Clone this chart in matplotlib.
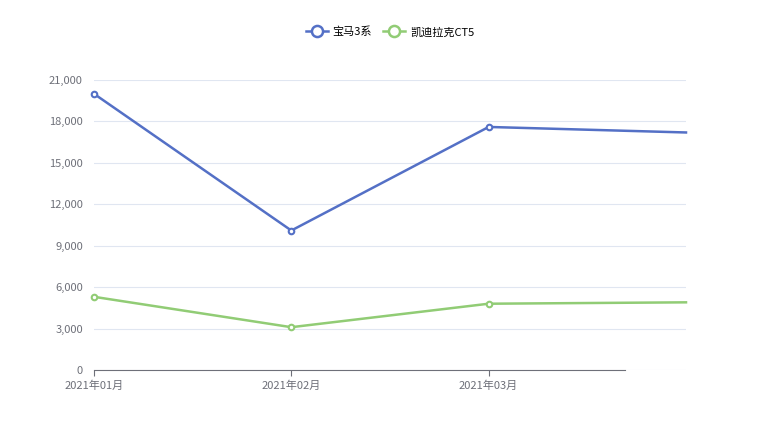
import matplotlib.pyplot as plt
from matplotlib.ticker import FuncFormatter

plt.rcParams['font.family'] = ['Noto Sans CJK SC', 'DejaVu Sans']

months = ['2021年01月', '2021年02月', '2021年03月', '2021年04月']
bmw = [20000, 10100, 17600, 17200]
cadillac = [5300, 3100, 4800, 4900]
series = [('宝马3系', bmw, '#5470c6'), ('凯迪拉克CT5', cadillac, '#91cc75')]

fig = plt.figure(figsize=(7.8, 4.4), dpi=100)
ax = fig.add_axes([94 / 780, 1 - 370 / 440, (686 - 94) / 780, (370 - 80) / 440])

x = list(range(len(months)))
for name, vals, col in series:
    ax.plot(x, vals, color=col, lw=1.8, label=name, clip_on=False)
    ax.plot(x[:3], vals[:3], 'o', ms=4, mfc='white', mec=col, mew=1.5, clip_on=False)

ax.set_xlim(0, 3)
ax.set_ylim(0, 21000)
ax.set_yticks(range(0, 21001, 3000))
ax.yaxis.set_major_formatter(FuncFormatter(lambda v, p: f'{int(v):,}'))
ax.set_xticks(x[:3])
ax.set_xticklabels(months[:3])
ax.grid(axis='y', color='#e0e6f1', lw=0.8)
ax.set_axisbelow(True)
for s in ['top', 'right', 'left']:
    ax.spines[s].set_visible(False)
ax.spines['bottom'].set_color('#6e7079')
ax.spines['bottom'].set_bounds(0, (625 - 94) / ((686 - 94) / 3))
ax.tick_params(axis='y', length=0, labelsize=8, colors='#6e7079', pad=8)
ax.tick_params(axis='x', length=4, labelsize=8, colors='#6e7079', color='#6e7079')

handles = [plt.Line2D([], [], color=c, lw=1.8, marker='o', ms=8, mfc='white', mew=1.8) for _, _, c in series]
fig.legend(handles, [n for n, _, _ in series], loc='center', bbox_to_anchor=(0.5, 1 - 32 / 440),
           ncol=2, frameon=False, fontsize=8, handlelength=2, columnspacing=1, handletextpad=0.4)

fig.savefig('out.png', dpi=100)
